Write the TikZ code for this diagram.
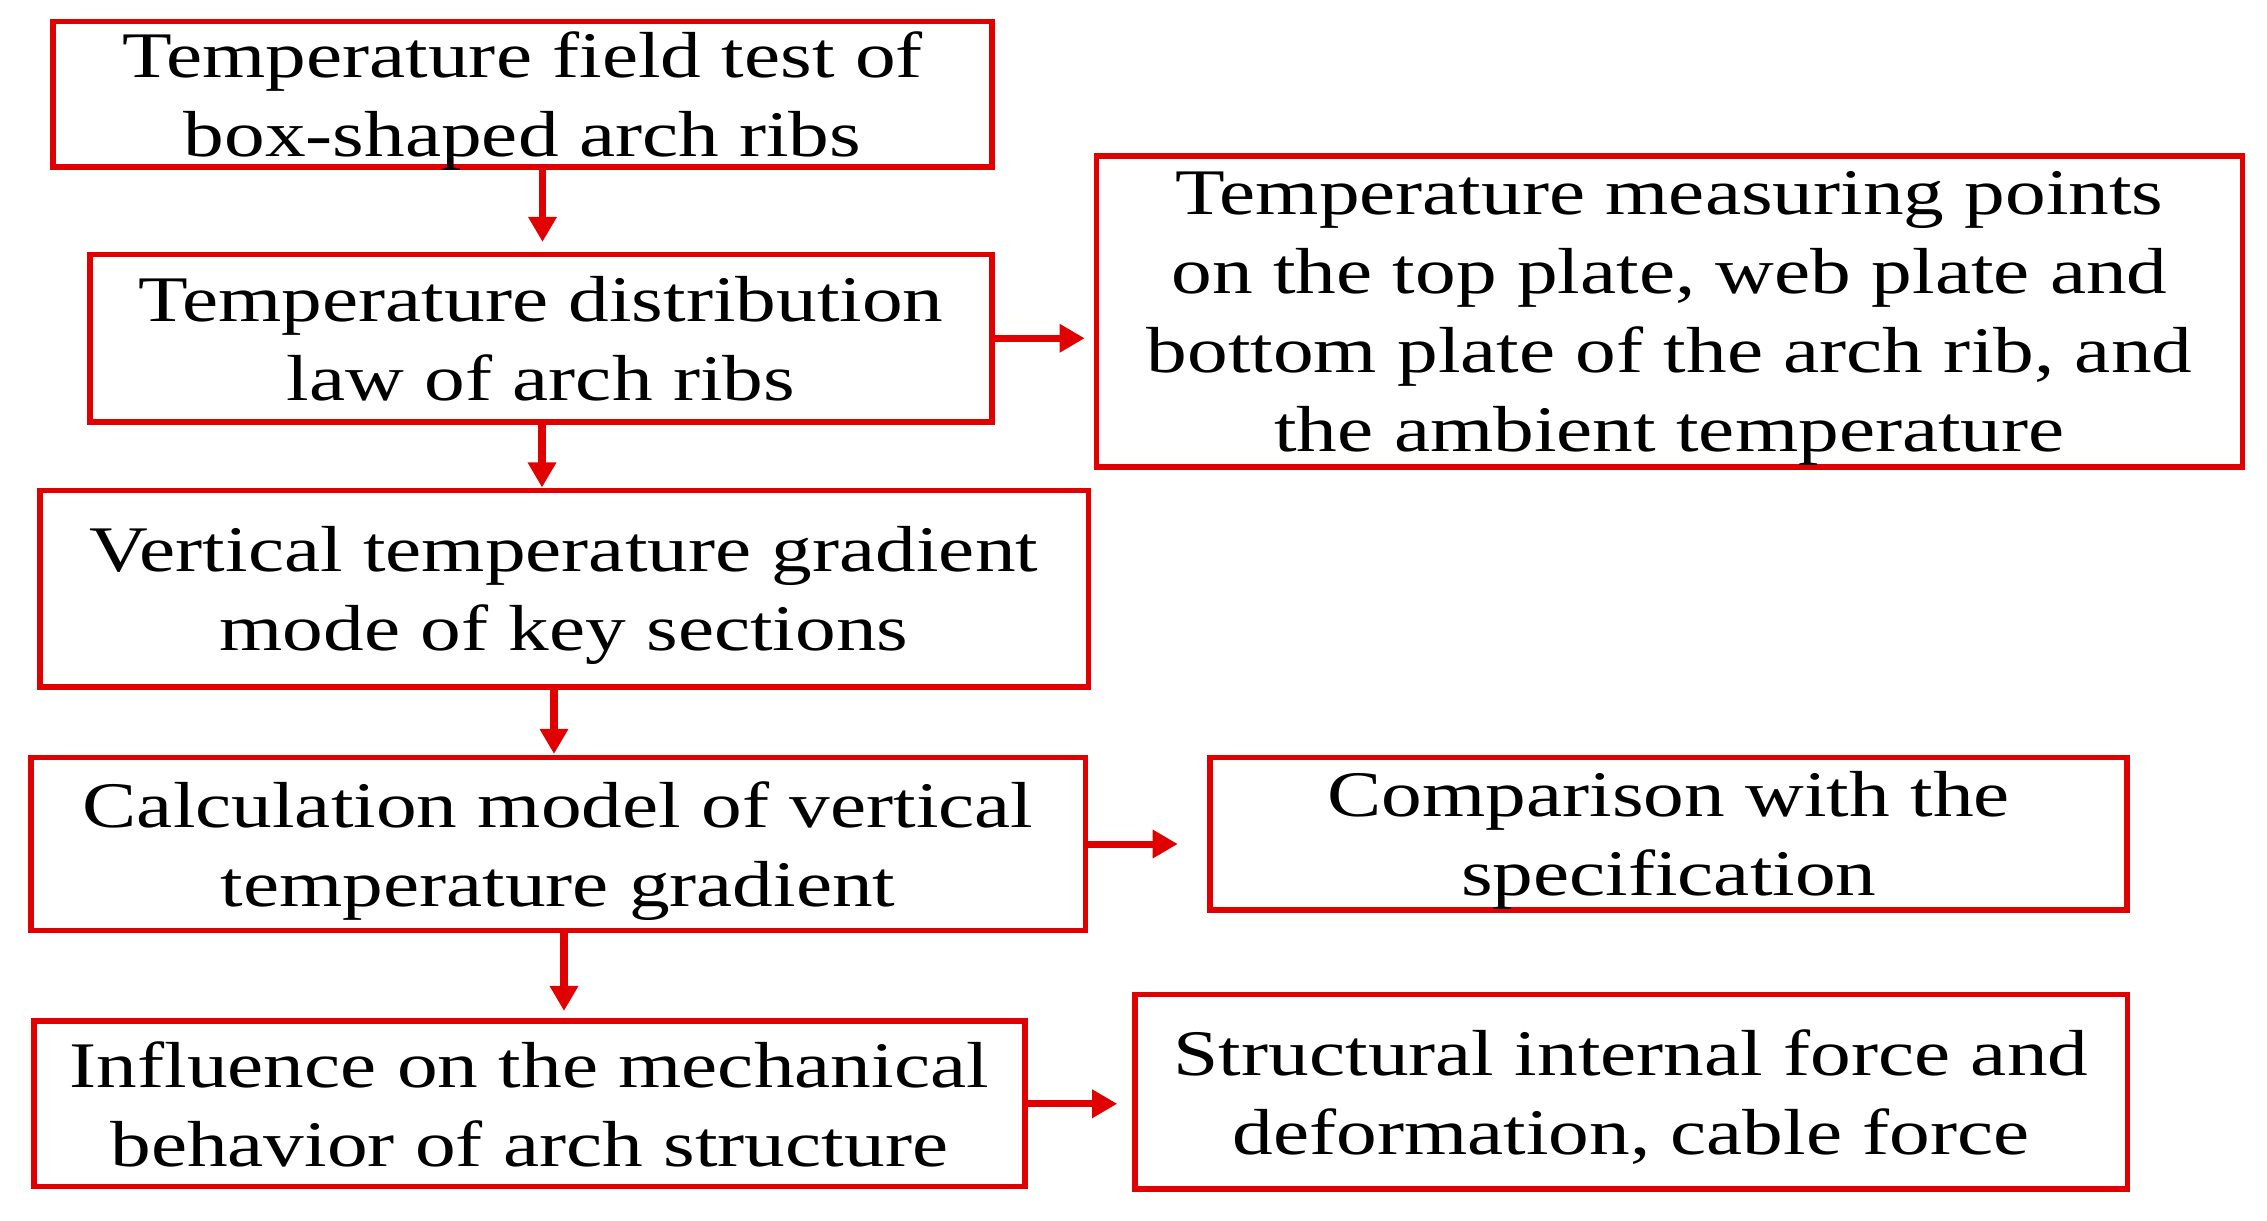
\documentclass[tikz,border=0pt]{standalone}
\usepackage{fontspec}
\setmainfont{Liberation Serif}[FakeStretch=1.25]
\usetikzlibrary{arrows.meta}
\definecolor{boxred}{RGB}{224,0,0}
\newcommand{\boxfont}{\fontsize{18.5pt}{22.5pt}\selectfont}
% last line of a box: its descenders do not count for centring
\newcommand{\lastline}[1]{\raisebox{0pt}[\height][0pt]{#1}}
\tikzset{
  flowbox/.style={draw=boxred, line width=1.6pt, inner sep=0pt, outer sep=0pt,
    align=center, font=\boxfont, text=black},
  flowarr/.style={draw=boxred, line width=2pt,
    -{Triangle[length=0.25cm,width=0.27cm]}}
}
\begin{document}
\begin{tikzpicture}[x=0.01cm,y=-0.01cm]
\useasboundingbox (0,0) rectangle (2267,1220);
% left column
\node[flowbox, minimum width=9.39cm, minimum height=1.455cm] (B1) at (522.5,94.25)
  {Temperature field test of\\\lastline{box-shaped arch ribs}};
\node[flowbox, minimum width=9.02cm, minimum height=1.675cm] (B2) at (541,338.25)
  {Temperature distribution\\\lastline{law of arch ribs}};
\node[flowbox, minimum width=10.48cm, minimum height=1.965cm] (B3) at (564,588.75)
  {Vertical temperature gradient\\\lastline{mode of key sections}};
\node[flowbox, minimum width=10.54cm, minimum height=1.73cm] (B4) at (558,844)
  {Calculation model of vertical\\\lastline{temperature gradient}};
\node[flowbox, minimum width=9.905cm, minimum height=1.655cm] (B5) at (529.25,1103.75)
  {Influence on the mechanical\\\lastline{behavior of arch structure}};
% right column
\node[flowbox, minimum width=11.45cm, minimum height=3.11cm] (R1) at (1669.5,311.5)
  {Temperature measuring points\\on the top plate, web plate and\\bottom plate of the arch rib, and\\\lastline{the ambient temperature}};
\node[flowbox, minimum width=9.165cm, minimum height=1.525cm] (R2) at (1668.75,833.75)
  {Comparison with the\\\lastline{specification}};
\node[flowbox, minimum width=9.92cm, minimum height=1.945cm] (R3) at (1631,1091.75)
  {Structural internal force and\\\lastline{deformation, cable force}};
% x positions of the vertical connectors
\coordinate (c12) at (542.5,0);
\coordinate (c23) at (542,0);
\coordinate (c34) at (554,0);
\coordinate (c45) at (564,0);
% vertical connectors
\draw[flowarr, shorten >=0.125cm] (B1.south -| c12) -- (B2.north -| c12);
\draw[flowarr, shorten >=0.03cm] (B2.south -| c23) -- (B3.north -| c23);
\draw[flowarr, shorten >=0.035cm] (B3.south -| c34) -- (B4.north -| c34);
\draw[flowarr, shorten >=0.10cm] (B4.south -| c45) -- (B5.north -| c45);
% horizontal connectors
\draw[flowarr, shorten >=0.12cm] (B2.east) -- (B2.east -| R1.west);
\draw[flowarr, shorten >=0.325cm] (B4.east) -- (B4.east -| R2.west);
\draw[flowarr, shorten >=0.175cm] (B5.east) -- (B5.east -| R3.west);
\end{tikzpicture}
\end{document}
